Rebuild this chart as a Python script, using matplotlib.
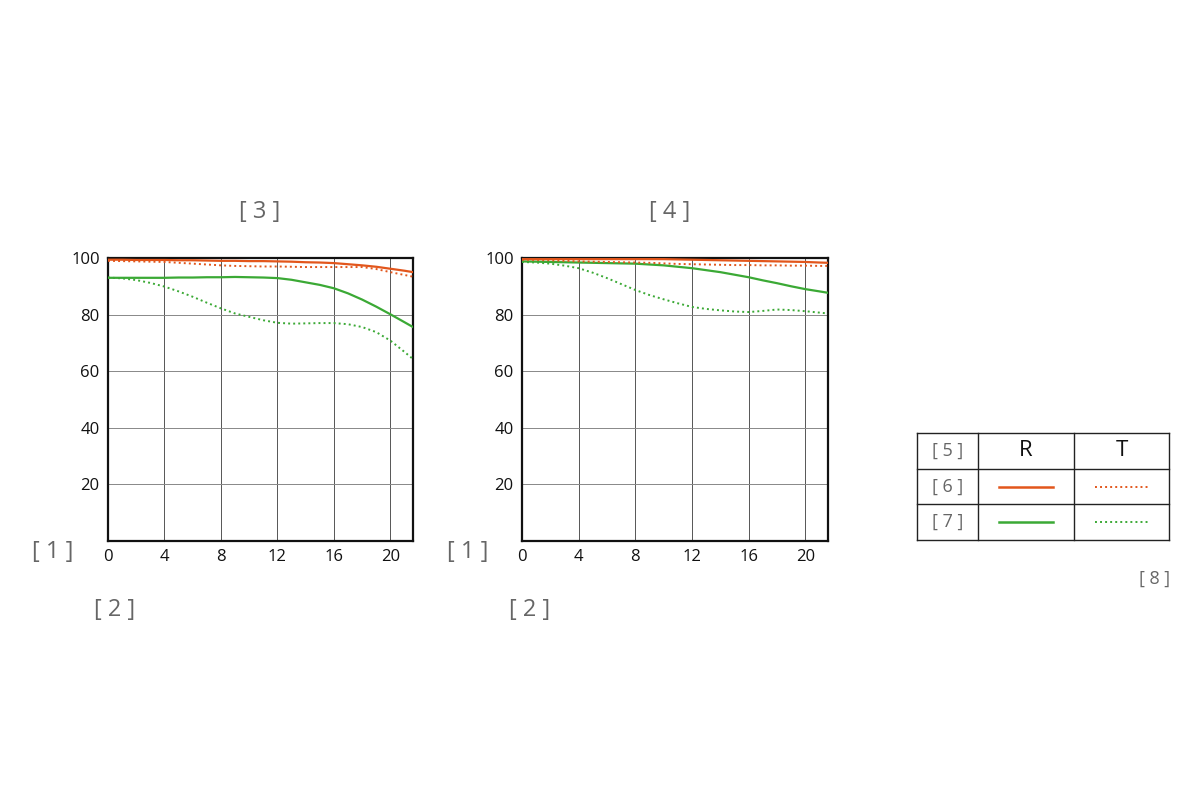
import matplotlib
matplotlib.use('Agg')
import matplotlib.pyplot as plt

plt.rcParams['font.family'] = ['Open Sans', 'DejaVu Sans']

# image height (mm) and contrast (%)
height = [0, 1, 2, 3, 4, 5, 6, 7, 8, 9, 10, 11, 12, 13, 14, 15, 16, 17, 18, 19, 20, 21, 21.6]

left_r_orange = [99.4, 99.4, 99.3, 99.3, 99.3, 99.2, 99.2, 99.1, 99.0, 99.0, 98.9, 98.9,
                 98.8, 98.7, 98.5, 98.4, 98.2, 97.8, 97.4, 96.9, 96.2, 95.5, 95.0]
left_t_orange = [99.0, 98.9, 98.8, 98.7, 98.6, 98.3, 98.0, 97.7, 97.4, 97.2, 97.1, 97.0,
                 97.0, 96.9, 96.8, 96.8, 96.8, 96.8, 96.8, 96.1, 95.0, 94.0, 93.4]
left_r_green = [93.0, 93.0, 93.0, 93.0, 93.0, 93.1, 93.1, 93.2, 93.2, 93.3, 93.2, 93.1,
                92.9, 92.3, 91.4, 90.5, 89.3, 87.5, 85.3, 82.8, 80.1, 77.3, 75.6]
left_t_green = [93.1, 92.8, 92.2, 91.2, 89.9, 88.2, 86.3, 84.2, 82.2, 80.4, 79.2, 78.0,
                77.1, 76.8, 76.9, 77.0, 77.0, 76.6, 75.6, 73.8, 70.8, 66.8, 64.3]

right_r_orange = [99.6, 99.6, 99.6, 99.6, 99.6, 99.6, 99.6, 99.6, 99.6, 99.6, 99.6, 99.5,
                  99.4, 99.3, 99.2, 99.1, 99.0, 98.9, 98.8, 98.7, 98.6, 98.4, 98.3]
right_t_orange = [99.4, 99.3, 99.2, 99.0, 98.8, 98.7, 98.6, 98.5, 98.4, 98.3, 98.1, 97.9,
                  97.8, 97.7, 97.6, 97.5, 97.5, 97.4, 97.4, 97.3, 97.3, 97.2, 97.2]
right_r_green = [98.8, 98.7, 98.6, 98.5, 98.4, 98.3, 98.2, 98.1, 98.0, 97.7, 97.4, 96.9,
                 96.4, 95.7, 95.0, 94.1, 93.2, 92.1, 91.1, 90.0, 89.0, 88.2, 87.7]
right_t_green = [98.6, 98.4, 98.0, 97.3, 96.4, 94.8, 92.9, 90.8, 88.7, 86.9, 85.4, 84.0,
                 82.7, 82.0, 81.5, 81.1, 80.9, 81.3, 81.8, 81.6, 81.2, 80.7, 80.4]

x_ticks = [0, 4, 8, 12, 16, 20]
y_ticks = [20, 40, 60, 80, 100]
titles = ['[ 3 ]', '[ 4 ]']
row_labels = ['[ 6 ]', '[ 7 ]']
col_labels = ['R', 'T']

ORANGE = '#e2561c'
GREEN = '#3ba935'
GREY = '#666666'
DOT = (0, (1, 1.6))

fig = plt.figure(figsize=(12, 8), dpi=100)


def draw_panel(rect, r_or, t_or, r_gr, t_gr):
    ax = fig.add_axes(rect)
    ax.set_xlim(0, 21.6)
    ax.set_ylim(0, 100)
    ax.set_xticks(x_ticks)
    ax.set_yticks(y_ticks)
    ax.tick_params(length=0, labelsize=12, pad=6, colors='#111111')
    for x in x_ticks[1:]:
        ax.axvline(x, color='#555555', lw=0.7, zorder=1)
    for y in y_ticks[:-1]:
        ax.axhline(y, color='#888888', lw=0.7, zorder=1)
    for s in ax.spines.values():
        s.set_linewidth(1.6)
        s.set_color('#111111')
    ax.plot(height, r_gr, color=GREEN, lw=1.6, zorder=3)
    ax.plot(height, t_gr, color=GREEN, lw=1.4, ls=DOT, zorder=3)
    ax.plot(height, r_or, color=ORANGE, lw=1.6, zorder=4)
    ax.plot(height, t_or, color=ORANGE, lw=1.4, ls=DOT, zorder=4)
    return ax


draw_panel([108/1200, 1-541/800, 305/1200, 283/800],
           left_r_orange, left_t_orange, left_r_green, left_t_green)
draw_panel([522/1200, 1-541/800, 306/1200, 283/800],
           right_r_orange, right_t_orange, right_r_green, right_t_green)

lab = dict(color=GREY, fontsize=17, ha='center', va='center')
fig.text(260/1200, 1-212/800, titles[0], **lab)
fig.text(670/1200, 1-212/800, titles[1], **lab)
fig.text(53/1200, 1-552/800, '[ 1 ]', **lab)
fig.text(468/1200, 1-552/800, '[ 1 ]', **lab)
fig.text(115/1200, 1-610/800, '[ 2 ]', **lab)
fig.text(530/1200, 1-610/800, '[ 2 ]', **lab)
fig.text(1155/1200, 1-579/800, '[ 8 ]', color=GREY, fontsize=13, ha='center', va='center')

# legend table
tax = fig.add_axes([917/1200, 1-540/800, 252/1200, 107/800])
tax.set_xlim(0, 1)
tax.set_ylim(0, 1)
tax.axis('off')
c1, c2 = 61/252, 157/252
for x in [0, c1, c2, 1]:
    tax.plot([x, x], [0, 1], color='#222222', lw=1.0, clip_on=False)
for y in [0, 1/3, 2/3, 1]:
    tax.plot([0, 1], [y, y], color='#222222', lw=1.0, clip_on=False)

tax.text(c1/2, 5/6, '[ 5 ]', color=GREY, fontsize=13, ha='center', va='center')
tax.text((c1+c2)/2, 5/6, col_labels[0], color='#111111', fontsize=16, ha='center', va='center')
tax.text((c2+1)/2, 5/6, col_labels[1], color='#111111', fontsize=16, ha='center', va='center')
for i, (lbl, col) in enumerate(zip(row_labels, [ORANGE, GREEN])):
    yc = 1/2 - i/3
    tax.text(c1/2, yc, lbl, color=GREY, fontsize=13, ha='center', va='center')
    tax.plot([(c1+c2)/2 - 0.107, (c1+c2)/2 + 0.107], [yc, yc], color=col, lw=1.8)
    tax.plot([(c2+1)/2 - 0.107, (c2+1)/2 + 0.107], [yc, yc], color=col, lw=1.4, ls=DOT)

fig.savefig('out.png', dpi=100)
